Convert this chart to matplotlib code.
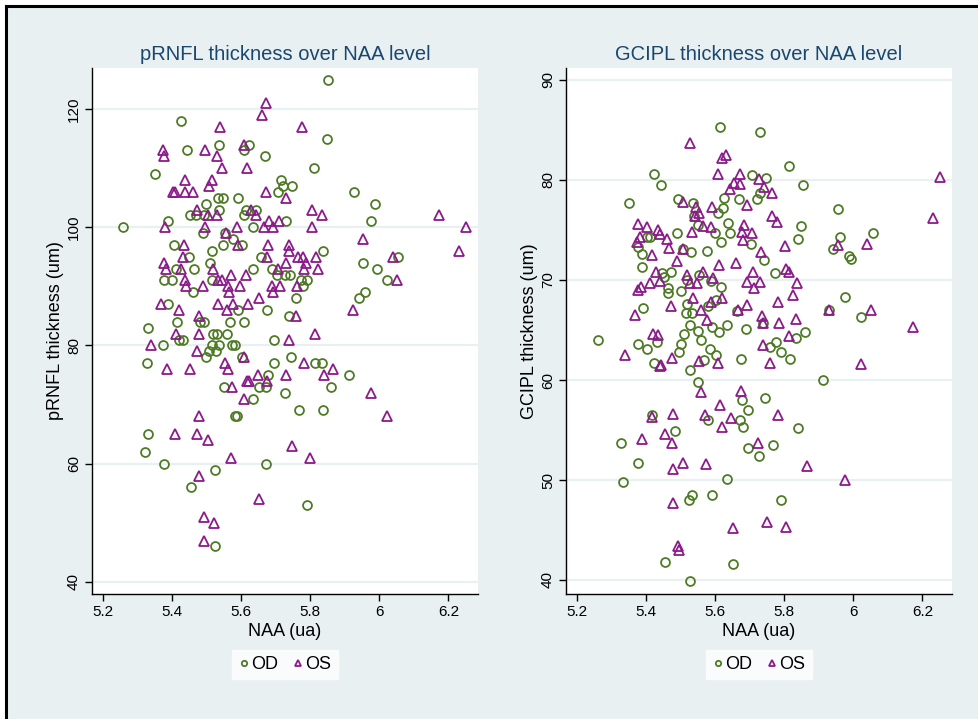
import matplotlib
matplotlib.use('Agg')
import matplotlib.pyplot as plt
from matplotlib.patches import Rectangle
from matplotlib.lines import Line2D

# --- pRNFL vs NAA ---
rnfl_od_naa = [5.852, 5.847, 5.424, 5.443, 5.536, 5.623, 5.607, 5.669, 5.812, 5.349,
               5.715, 5.720, 5.746, 5.707, 5.926, 5.532, 5.547, 5.590, 5.987, 5.498,
               5.534, 5.613, 5.642, 5.451, 5.469, 5.492, 5.609, 5.975, 5.729, 5.388,
               5.258, 5.633, 5.489, 5.554, 5.547, 5.577, 5.603, 5.406, 5.515, 5.838,
               5.449, 6.055, 5.657, 5.509, 5.954, 5.411, 5.462, 5.635, 5.688, 5.994,
               5.702, 5.727, 5.741, 5.375, 5.400, 5.514, 6.021, 5.789, 5.772, 5.778,
               5.461, 5.959, 5.940, 5.758, 5.387, 5.589, 5.674, 5.739, 5.414, 5.480,
               5.492, 5.566, 5.609, 5.328, 5.519, 5.528, 5.558, 5.420, 5.430, 5.695,
               5.374, 5.516, 5.534, 5.573, 5.583, 5.506, 5.527, 5.498, 5.601, 5.744,
               5.326, 5.696, 5.814, 5.835, 5.678, 5.913, 5.549, 5.650, 5.671, 5.861,
               5.727, 5.635, 5.767, 5.838, 5.583, 5.588, 5.330, 5.320, 5.377, 5.670,
               5.524, 5.454, 5.790, 5.525]
rnfl_od = [125, 115, 118, 113, 114, 114, 113, 112, 110, 109,
           108, 107, 107, 106, 106, 105, 105, 105, 104, 104,
           103, 103, 103, 102, 102, 102, 102, 101, 101, 101,
           100, 100, 99, 99, 97, 98, 97, 97, 96, 96,
           95, 95, 95, 94, 94, 93, 93, 93, 93, 93,
           92, 92, 92, 91, 91, 91, 91, 91, 91, 90,
           89, 89, 88, 88, 87, 86, 86, 85, 84, 84,
           84, 84, 84, 83, 82, 82, 82, 81, 81, 81,
           80, 80, 80, 80, 80, 79, 79, 78, 78, 78,
           77, 77, 77, 77, 75, 75, 73, 73, 73, 73,
           72, 71, 69, 69, 68, 68, 65, 62, 60, 60,
           59, 56, 53, 46]

rnfl_os_naa = [5.671, 5.659, 5.539, 5.775, 5.372, 5.375, 5.496, 5.529, 5.607, 5.545,
               5.617, 5.437, 5.516, 5.506, 5.403, 5.408, 5.437, 5.460, 5.671, 5.728,
               5.471, 5.628, 5.804, 5.504, 5.528, 5.642, 5.835, 6.174, 5.680, 5.708,
               5.380, 5.495, 5.586, 5.667, 5.693, 5.804, 6.251, 5.556, 5.954, 5.434,
               5.591, 5.678, 5.738, 5.737, 6.231, 5.432, 5.675, 5.764, 5.778, 5.815,
               6.039, 5.375, 5.730, 5.786, 5.382, 5.426, 5.519, 5.707, 5.783, 5.823,
               5.438, 5.532, 5.543, 5.571, 5.612, 6.052, 5.439, 5.488, 5.562, 5.596,
               5.690, 5.713, 5.762, 5.564, 5.693, 5.651, 5.368, 5.533, 5.576, 5.619,
               5.420, 5.557, 5.925, 5.478, 5.759, 5.411, 5.478, 5.814, 5.738, 5.338,
               5.472, 5.385, 5.451, 5.552, 5.560, 5.607, 5.782, 5.867, 5.649, 5.728,
               5.840, 5.616, 5.622, 5.675, 5.572, 5.975, 5.607, 5.477, 6.023, 5.409,
               5.470, 5.503, 5.747, 5.570, 5.800, 5.477, 5.650, 5.491, 5.521, 5.492]
rnfl_os = [121, 119, 117, 117, 113, 112, 113, 112, 114, 110,
           110, 108, 108, 107, 106, 106, 106, 106, 106, 105,
           103, 103, 103, 102, 102, 102, 102, 102, 101, 101,
           100, 100, 100, 100, 100, 100, 100, 99, 98, 97,
           97, 97, 97, 96, 96, 95, 95, 95, 95, 95,
           95, 94, 94, 94, 93, 93, 93, 93, 93, 93,
           91, 91, 91, 92, 92, 91, 90, 90, 90, 90,
           90, 90, 90, 89, 89, 88, 87, 87, 87, 87,
           86, 86, 86, 85, 85, 82, 82, 82, 81, 80,
           79, 76, 76, 77, 76, 78, 77, 76, 75, 75,
           75, 74, 74, 74, 73, 72, 71, 68, 68, 65,
           65, 64, 63, 61, 61, 58, 54, 51, 50, 47]

# --- GCIPL vs NAA ---
gcipl_od_naa = [5.612, 5.728, 5.814, 5.423, 5.707, 5.746, 5.442, 5.853, 5.729, 5.349,
                5.492, 5.626, 5.669, 5.721, 5.535, 5.623, 5.955, 5.608, 5.538, 5.549,
                5.636, 5.847, 5.642, 5.599, 5.488, 6.056, 5.403, 5.410, 5.961, 5.617,
                5.702, 5.839, 5.375, 5.940, 5.505, 5.528, 5.576, 5.388, 5.987, 5.992,
                5.740, 5.387, 5.470, 5.445, 5.450, 5.773, 5.517, 5.554, 5.588, 5.616,
                5.464, 5.464, 5.499, 5.976, 5.603, 5.580, 5.518, 5.391, 5.515, 5.532,
                5.664, 5.928, 6.021, 5.737, 5.527, 5.589, 5.633, 5.690, 5.551, 5.611,
                5.508, 5.860, 5.259, 5.834, 5.558, 5.430, 5.375, 5.499, 5.777, 5.757,
                5.401, 5.584, 5.494, 5.790, 5.603, 5.423, 5.674, 5.816, 5.567, 5.527,
                5.551, 5.912, 5.745, 5.678, 5.695, 5.672, 5.578, 5.417, 5.679, 5.840,
                5.484, 5.326, 5.768, 5.696, 5.726, 5.377, 5.331, 5.635, 5.533, 5.524,
                5.590, 5.789, 5.453, 5.651, 5.527]
gcipl_od = [85.3, 84.8, 81.4, 80.6, 80.5, 80.2, 79.5, 79.5, 78.7, 77.7,
            78.1, 78.2, 78.1, 78.1, 77.7, 77.2, 77.1, 76.7, 76.4, 75.5,
            75.7, 75.4, 74.7, 74.7, 74.7, 74.7, 74.3, 74.3, 74.3, 73.8,
            73.6, 74.1, 73.3, 73.1, 73.1, 72.8, 72.9, 72.6, 72.4, 72.1,
            72.0, 71.3, 70.8, 70.7, 70.3, 70.7, 70.0, 70.5, 69.9, 69.3,
            69.2, 68.7, 68.9, 68.3, 68.0, 67.4, 67.6, 67.2, 66.7, 66.7,
            66.9, 67.0, 66.3, 65.7, 65.5, 65.3, 65.5, 65.1, 64.9, 64.8,
            64.6, 64.8, 64.0, 64.2, 64.0, 63.8, 63.6, 63.6, 63.8, 63.3,
            63.1, 63.1, 62.8, 62.8, 62.5, 61.7, 62.1, 62.1, 62.0, 61.0,
            59.8, 60.0, 58.2, 58.0, 57.0, 56.0, 56.0, 56.5, 55.3, 55.2,
            54.9, 53.7, 53.5, 53.2, 52.4, 51.7, 49.8, 50.1, 48.5, 48.0,
            48.5, 48.0, 41.8, 41.6, 39.9]

gcipl_os_naa = [5.527, 5.618, 5.630, 5.608, 5.672, 6.252, 5.672, 5.653, 5.727, 5.643,
                5.741, 5.764, 5.505, 5.692, 5.591, 5.545, 5.554, 5.540, 5.764, 5.778,
                6.230, 5.375, 5.403, 5.434, 5.439, 5.563, 5.588, 5.682, 5.676, 5.707,
                5.532, 5.382, 5.372, 5.459, 5.679, 5.467, 5.505, 5.802, 5.955, 6.039,
                5.732, 5.415, 5.490, 5.610, 5.660, 5.804, 5.814, 5.428, 5.517, 5.565,
                5.594, 5.710, 5.410, 5.440, 5.527, 5.546, 5.691, 5.729, 5.837, 5.384,
                5.375, 5.713, 5.824, 5.536, 5.620, 5.587, 5.783, 5.472, 5.693, 5.558,
                5.666, 5.928, 6.052, 5.368, 5.736, 5.835, 5.575, 5.739, 5.785, 6.174,
                5.420, 5.434, 5.813, 5.739, 5.338, 5.474, 5.440, 5.443, 5.553, 5.609,
                5.759, 6.023, 5.559, 5.674, 5.614, 5.417, 5.477, 5.571, 5.645, 5.782,
                5.620, 5.453, 5.388, 5.473, 5.725, 5.506, 5.572, 5.867, 5.477, 5.976,
                5.477, 5.751, 5.804, 5.650, 5.493, 5.495]
gcipl_os = [83.7, 82.2, 82.5, 80.6, 80.6, 80.3, 79.6, 79.7, 80.1, 79.1,
            79.3, 78.7, 77.8, 77.5, 77.3, 77.3, 76.7, 76.4, 76.4, 75.8,
            76.2, 75.6, 75.3, 75.0, 74.6, 75.4, 75.3, 75.5, 74.8, 74.7,
            74.8, 74.3, 73.8, 74.1, 74.0, 73.2, 73.1, 73.4, 73.5, 73.6,
            72.8, 72.5, 71.9, 71.5, 71.7, 71.1, 70.8, 70.8, 70.5, 70.8,
            70.2, 70.8, 69.7, 69.9, 69.7, 69.7, 69.8, 69.8, 69.7, 69.3,
            69.0, 69.2, 68.5, 68.2, 68.2, 67.8, 67.8, 67.4, 67.5, 67.0,
            67.0, 67.0, 67.0, 66.5, 66.4, 66.1, 66.0, 65.7, 65.7, 65.3,
            64.6, 64.5, 64.4, 63.5, 62.5, 62.2, 61.4, 61.5, 61.9, 61.7,
            61.7, 61.6, 58.8, 58.9, 57.5, 56.3, 56.6, 56.5, 56.2, 56.5,
            55.3, 54.6, 54.1, 53.7, 53.7, 51.7, 51.6, 51.4, 51.1, 50.0,
            47.7, 45.8, 45.3, 45.2, 43.4, 43.0]

x_ticks = [5.2, 5.4, 5.6, 5.8, 6.0, 6.2]
x_ticklabels = ["5.2", "5.4", "5.6", "5.8", "6", "6.2"]

GREEN = '#4f7b26'
PURPLE = '#8b1a8b'
NAVY = '#1a476f'
BG = '#e8f0f2'

plt.rcParams['font.family'] = ['Liberation Sans', 'DejaVu Sans']

fig = plt.figure(figsize=(9.79, 7.19), dpi=100)
fig.patch.set_facecolor('white')
# graph region with black frame on top and left
fig.patches.append(Rectangle((6 / 979, 0), 1, 1 - 6 / 719, transform=fig.transFigure,
                             facecolor=BG, edgecolor='none', zorder=-10))
fig.lines.append(Line2D([6 / 979, 1], [1 - 6 / 719, 1 - 6 / 719], transform=fig.transFigure,
                        color='black', lw=2.2, zorder=-5))
fig.lines.append(Line2D([6 / 979, 6 / 979], [0, 1 - 6 / 719], transform=fig.transFigure,
                        color='black', lw=2.2, zorder=-5))


def panel(rect, od_x, od_y, os_x, os_y, title, ylabel, ylim, yticks):
    ax = fig.add_axes(rect)
    ax.set_facecolor('white')
    ax.plot(od_x, od_y, 'o', ms=6.4, mfc='none', mec=GREEN, mew=1.3, ls='none', label='OD')
    ax.plot(os_x, os_y, '^', ms=7.4, mfc='none', mec=PURPLE, mew=1.3, ls='none', label='OS')
    ax.set_xlim(5.167, 6.286)
    ax.set_ylim(*ylim)
    ax.set_xticks(x_ticks)
    ax.set_xticklabels(x_ticklabels)
    ax.set_yticks(yticks)
    ax.set_yticklabels([str(t) for t in yticks], rotation=90, va='center')
    ax.tick_params(labelsize=11, length=5, width=1, direction='out', pad=3)
    ax.yaxis.grid(True, color=BG, lw=1.6)
    ax.set_axisbelow(True)
    for s in ['top', 'right']:
        ax.spines[s].set_visible(False)
    ax.spines['left'].set_linewidth(1)
    ax.spines['bottom'].set_linewidth(1)
    ax.set_title(title, color=NAVY, fontsize=14.5, pad=6)
    ax.set_xlabel('NAA (ua)', fontsize=13, labelpad=3)
    ax.set_ylabel(ylabel, fontsize=13, labelpad=2)
    leg = ax.legend(loc='center', bbox_to_anchor=(0.5, -0.134), ncol=2, frameon=True,
                    fancybox=False, fontsize=13, markerscale=0.6, handlelength=0.6,
                    handletextpad=0.1, columnspacing=0.8, borderpad=0.35)
    leg.get_frame().set_facecolor('white')
    leg.get_frame().set_edgecolor('white')
    return ax


panel([92 / 979, 1 - 594 / 719, 386 / 979, 526 / 719],
      rnfl_od_naa, rnfl_od, rnfl_os_naa, rnfl_os,
      'pRNFL thickness over NAA level', 'pRNFL thickness (um)',
      (37.95, 126.95), [40, 60, 80, 100, 120])

panel([566 / 979, 1 - 594 / 719, 386 / 979, 526 / 719],
      gcipl_od_naa, gcipl_od, gcipl_os_naa, gcipl_os,
      'GCIPL thickness over NAA level', 'GCIPL thickness (um)',
      (38.6, 91.2), [40, 50, 60, 70, 80, 90])

fig.savefig('out.png', dpi=100, facecolor=fig.get_facecolor())
